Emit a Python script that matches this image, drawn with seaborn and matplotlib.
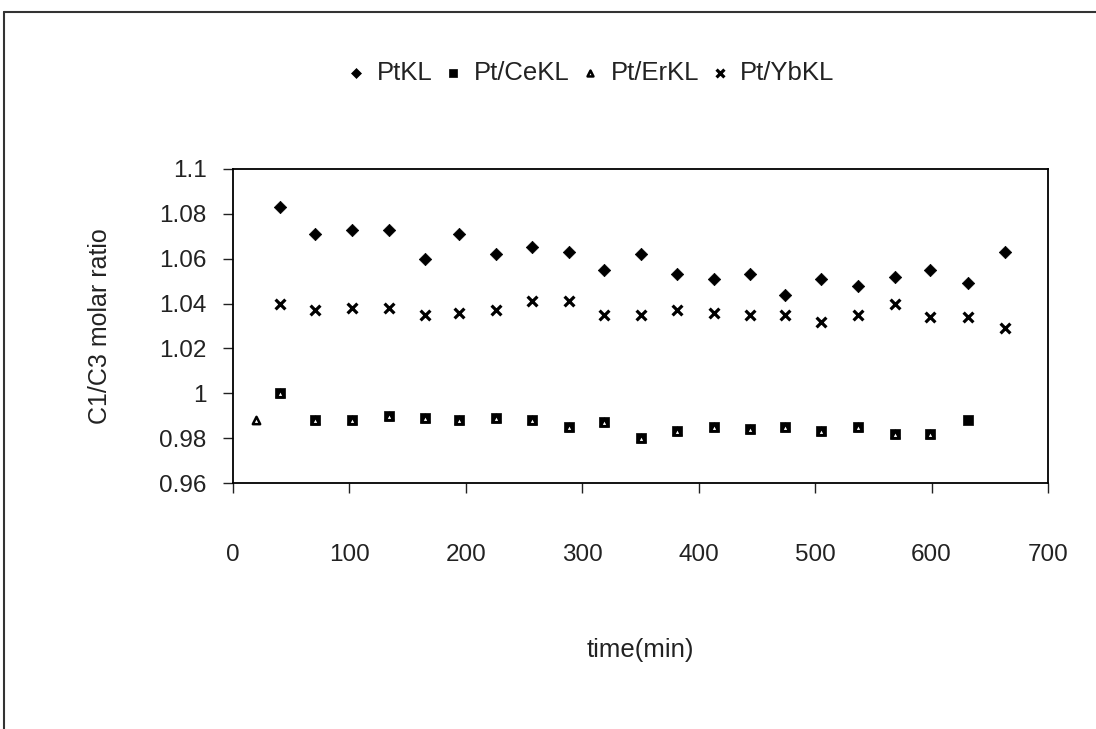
import numpy as np
import pandas as pd
import seaborn as sns
import matplotlib.pyplot as plt
from matplotlib.lines import Line2D

# time (min) for the sampling points
time = [40, 70, 102, 134, 165, 194, 226, 257, 289, 319, 350,
        381, 413, 444, 474, 505, 537, 569, 599, 631, 663]

pt_kl = [1.083, 1.071, 1.073, 1.073, 1.060, 1.071, 1.062, 1.065, 1.063, 1.055, 1.062,
         1.053, 1.051, 1.053, 1.044, 1.051, 1.048, 1.052, 1.055, 1.049, 1.063]
pt_ybkl = [1.040, 1.037, 1.038, 1.038, 1.035, 1.036, 1.037, 1.041, 1.041, 1.035, 1.035,
           1.037, 1.036, 1.035, 1.035, 1.032, 1.035, 1.040, 1.034, 1.034, 1.029]
ce_time = time[:20]
pt_cekl = [1.000, 0.988, 0.988, 0.990, 0.989, 0.988, 0.989, 0.988, 0.985, 0.987,
           0.980, 0.983, 0.985, 0.984, 0.985, 0.983, 0.985, 0.982, 0.982, 0.988]
er_time = [20] + time[:19]
pt_erkl = [0.988, 1.000, 0.988, 0.988, 0.990, 0.989, 0.988, 0.989, 0.988, 0.985, 0.987,
           0.980, 0.983, 0.985, 0.984, 0.985, 0.983, 0.985, 0.982, 0.982]

sns.set_style("white")
plt.rcParams['font.family'] = ['Liberation Sans', 'DejaVu Sans']

fig = plt.figure(figsize=(10.96, 7.29), dpi=100)
ax = fig.add_axes([0.2126, 0.3374, 0.7436, 0.4308])

sns.scatterplot(x=time, y=pt_kl, ax=ax, marker="D", s=40, color="black",
                edgecolor="black", linewidth=0.5, label="PtKL")
sns.scatterplot(x=ce_time, y=pt_cekl, ax=ax, marker="s", s=60, color="black",
                edgecolor="black", linewidth=0.5, label="Pt/CeKL")
sns.scatterplot(x=er_time, y=pt_erkl, ax=ax, marker="^", s=28, color="white",
                edgecolor="black", linewidth=1.8, label="Pt/ErKL")
sns.scatterplot(x=time, y=pt_ybkl, ax=ax, marker="x", s=50, color="black",
                linewidth=2.3, label="Pt/YbKL")

ax.set_xlim(0, 700)
ax.set_ylim(0.96, 1.1)
ax.set_xticks(np.arange(0, 701, 100))
ax.set_yticks([0.96, 0.98, 1.0, 1.02, 1.04, 1.06, 1.08, 1.1])
ax.set_yticklabels(["0.96", "0.98", "1", "1.02", "1.04", "1.06", "1.08", "1.1"])
ax.tick_params(axis="both", labelsize=17.5, colors="#222222", direction="out",
               length=7, width=1, left=True, bottom=True)
ax.tick_params(axis="x", pad=37)
ax.tick_params(axis="y", pad=12)
for sp in ax.spines.values():
    sp.set_color("black")
    sp.set_linewidth(1.3)

ax.set_xlabel("time(min)", fontsize=18.5, color="#222222", labelpad=52)
ax.set_ylabel("C1/C3 molar ratio", fontsize=18, color="#222222", labelpad=34)

handles, labels = ax.get_legend_handles_labels()
ax.legend_.remove()
fig.legend(handles, labels, loc="center", bbox_to_anchor=(0.538, 0.9), ncol=4,
           frameon=False, fontsize=18.5, handlelength=0.9, handletextpad=0.35,
           columnspacing=0.35, markerscale=0.8, labelcolor="#222222")

# outer chart frame (left and top edges visible in the scan)
fig.add_artist(Line2D([0.004, 0.004], [0.0, 0.984], color="#333333", lw=1.5))
fig.add_artist(Line2D([0.004, 1.0], [0.984, 0.984], color="#333333", lw=1.5))

plt.savefig("out.png", dpi=100)
plt.close()
